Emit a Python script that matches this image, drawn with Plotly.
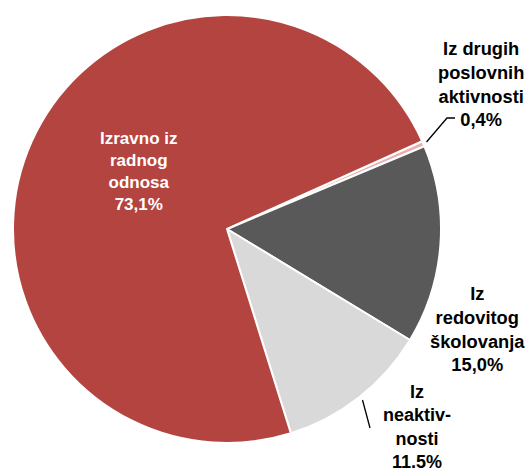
import plotly.graph_objects as go

# Data
categories = ["Iz drugih poslovnih aktivnosti", "Iz redovitog školovanja", "Iz neaktivnosti", "Izravno iz radnog odnosa"]
values = [0.4, 15.0, 11.5, 73.1]
label_texts = [
    "Iz drugih<br>poslovnih<br>aktivnosti<br>0,4%",
    "Iz<br>redovitog<br>školovanja<br>15,0%",
    "Iz<br>neaktiv-<br>nosti<br>11.5%",
    "Izravno iz<br>radnog<br>odnosa<br>73,1%",
]
colors = ["#E6B1B0", "#595959", "#D9D9D9", "#B4443F"]

W, H = 528, 473
cx, cy, R = 227, 229, 214


def px(x):
    return x / W


def py(y):
    return 1 - y / H


fig = go.Figure()
fig.add_trace(go.Pie(
    labels=categories,
    values=values,
    sort=False,
    direction="clockwise",
    rotation=65.8,
    marker=dict(colors=colors, line=dict(color="white", width=2)),
    textinfo="none",
    hoverinfo="label+percent",
    showlegend=False,
    domain=dict(x=[(cx - R) / W, (cx + R) / W], y=[(H - cy - R) / H, (H - cy + R) / H]),
))

# label positions (page pixels), colors and sizes
label_pos = [(481, 84), (477, 329), (417, 427), (138, 171)]
label_colors = ["black", "black", "black", "white"]
label_sizes = [18.3, 18.3, 18, 17]
for txt, (lx, ly), col, sz in zip(label_texts, label_pos, label_colors, label_sizes):
    fig.add_annotation(
        x=px(lx), y=py(ly), xref="paper", yref="paper",
        text=txt, showarrow=False, xanchor="center", yanchor="middle", align="center",
        font=dict(family="Liberation Sans, Arial, sans-serif", size=sz, color=col, weight="bold"),
    )

# leader lines
leaders = [
    [(426.5, 142), (447, 118), (455, 118)],
    [(362.5, 400), (370, 428)],
]
for pts in leaders:
    path = "M " + " L ".join(f"{px(x):.5f},{py(y):.5f}" for x, y in pts)
    fig.add_shape(type="path", path=path, xref="paper", yref="paper",
                  line=dict(color="black", width=1.3))

fig.update_layout(
    width=W, height=H,
    margin=dict(l=0, r=0, t=0, b=0),
    paper_bgcolor="white", plot_bgcolor="white",
)

fig.write_html(
    "out.html",
    config={"displayModeBar": False},
    post_script="document.body.style.margin='0';document.body.style.overflow='hidden';",
)
